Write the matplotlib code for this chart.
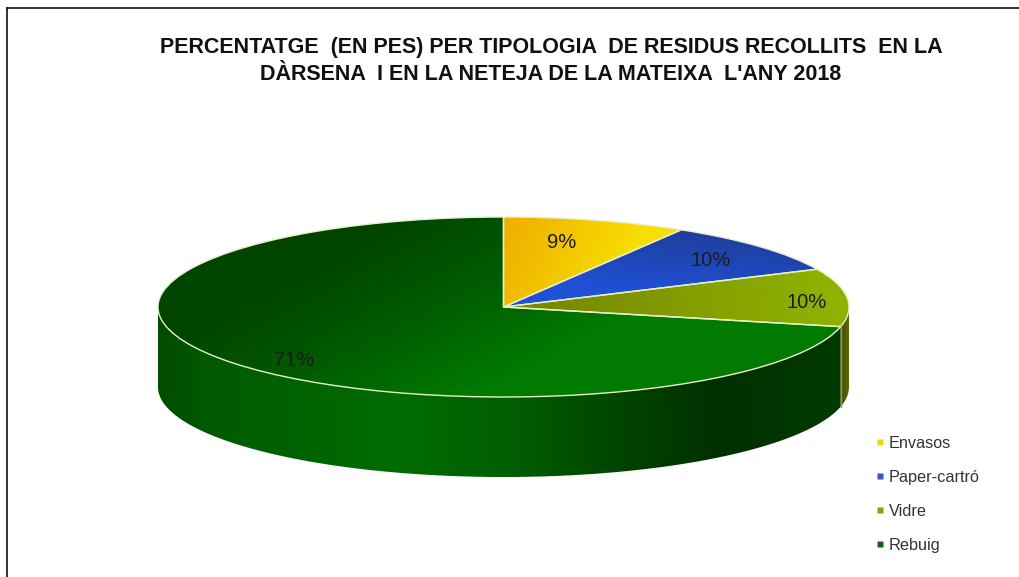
import numpy as np
import matplotlib
matplotlib.use("Agg")
import matplotlib.pyplot as plt
from matplotlib.colors import LinearSegmentedColormap
from matplotlib.lines import Line2D
from matplotlib.patches import PathPatch
from matplotlib.path import Path

plt.rcParams['font.family'] = ['Liberation Sans', 'DejaVu Sans']

# ---- data ----
categories = ['Envasos', 'Paper-cartró', 'Vidre', 'Rebuig']
values = [8.6, 9.5, 10.4, 71.5]
value_labels = ['9%', '10%', '10%', '71%']
title_lines = ["PERCENTATGE  (EN PES) PER TIPOLOGIA  DE RESIDUS RECOLLITS  EN LA",
               "DÀRSENA  I EN LA NETEJA DE LA MATEIXA  L'ANY 2018"]

# ---- style / layout ----
W, H = 1019, 577
CX, CY, RX, RY, DEPTH = 503.5, 307.0, 345.5, 90.0, 80.0
legend_colors = ['#F2D800', '#3F55B0', '#8FA010', '#14601E']
label_pix = [(562, 242), (711, 260), (807, 302), (294, 360)]
edge = '#E6F0C8'

top_grads = [
    (['#EFB200', '#F8DE00'], (515, 225), (625, 275)),
    (['#1F3E9C', '#1F50D6'], (650, 228), (645, 292)),
    (['#7A8A00', '#8FB200'], (560, 322), (830, 290)),
    (['#004400', '#005C00', '#007A00'], (390, 222), (480, 392)),
]
side_stops = [(158, '#004C00'), (210, '#005A00'), (400, '#006C00'), (510, '#005E00'),
              (640, '#004000'), (720, '#003000'), (840, '#003A00')]
vidre_side = ['#3E4C00', '#5F6F00']

fig = plt.figure(figsize=(W / 100, H / 100), dpi=100, facecolor='white')
ax = fig.add_axes([0, 0, 1, 1])
wedges, _ = ax.pie(values, startangle=90, counterclock=False, radius=1.0)
ax.set_aspect('auto')
xlim = (-CX / RX, (W - CX) / RX)
ylim = ((CY - H) / RY, CY / RY)


def px(x, y):
    return (x - CX) / RX, (CY - y) / RY


gx, gy = np.meshgrid(np.arange(W) + .5, np.arange(H) + .5)


def paint(colors, p0, p1, clip, z):
    d = np.array(p1, float) - np.array(p0, float)
    t = ((gx - p0[0]) * d[0] + (gy - p0[1]) * d[1]) / (d @ d)
    cmap = LinearSegmentedColormap.from_list('g', colors)
    im = ax.imshow(np.clip(t, 0, 1), cmap=cmap, vmin=0, vmax=1, origin='upper',
                   extent=(xlim[0], xlim[1], ylim[0], ylim[1]), aspect='auto',
                   zorder=z, interpolation='bilinear')
    im.set_clip_path(clip)


def side_patch(a0, a1):
    t = np.radians(np.linspace(a0, a1, 200))
    xs, ys = np.cos(t), np.sin(t)
    d = DEPTH / RY
    pts = np.vstack([np.c_[xs, ys], np.c_[xs[::-1], ys[::-1] - d], [[xs[0], ys[0]]]])
    p = PathPatch(Path(pts, closed=True), facecolor='none', edgecolor='none', zorder=3)
    ax.add_patch(p)
    return p


# visible rim: lower half of the ellipse, split where Rebuig meets Vidre
boundary = 90 - 360 * sum(values[:3]) / sum(values) + 360
green_side = side_patch(180, boundary)
olive_side = side_patch(boundary, 360)

xmin, xmax = side_stops[0][0], side_stops[-1][0]
cm_side = LinearSegmentedColormap.from_list(
    's', [((x - xmin) / (xmax - xmin), c) for x, c in side_stops])
t_side = np.clip((gx - xmin) / (xmax - xmin), 0, 1)
im = ax.imshow(t_side, cmap=cm_side, vmin=0, vmax=1, origin='upper',
               extent=(xlim[0], xlim[1], ylim[0], ylim[1]), aspect='auto', zorder=1)
im.set_clip_path(green_side)
paint(vidre_side, (840, 0), (850, 0), olive_side, 1)

# top faces
for w, (cols, p0, p1) in zip(wedges, top_grads):
    paint(cols, p0, p1, w, 2)
    w.set_facecolor('none')
    w.set_edgecolor(edge)
    w.set_linewidth(1.0)
    w.set_zorder(4)

# seam of the rim
bx, by = np.cos(np.radians(boundary)), np.sin(np.radians(boundary))
ax.plot([bx, bx], [by, by - DEPTH / RY], color='#8E9A50', lw=1.0, zorder=4)

ax.set_xlim(xlim)
ax.set_ylim(ylim)

for lab, (x, y) in zip(value_labels, label_pix):
    dx, dy = px(x, y)
    ax.text(dx, dy, lab, ha='center', va='center', fontsize=14.5, color='#1c1c1c', zorder=6)

for i, line in enumerate(title_lines):
    fig.text(551 / W, 1 - (47 + 27.5 * i) / H, line, ha='center', va='center',
             fontsize=15.5, fontweight='bold', color='#111111')

handles = [Line2D([], [], ls='', marker='s', ms=4.3, color=c, mec='none') for c in legend_colors]
fig.legend(handles, categories, loc='upper left', bbox_to_anchor=(875 / W, 1 - 436 / H),
           frameon=False, fontsize=11.7, labelspacing=1.17, handlelength=0.6,
           handletextpad=0.23, borderpad=0, borderaxespad=0, labelcolor='#333333')

fig.add_artist(Line2D([7 / W, 1], [1 - 8 / H, 1 - 8 / H], color='#111111', lw=1.2))
fig.add_artist(Line2D([7 / W, 7 / W], [1 - 8 / H, 0], color='#111111', lw=1.2))

fig.savefig('out.png', dpi=100, facecolor='white')
